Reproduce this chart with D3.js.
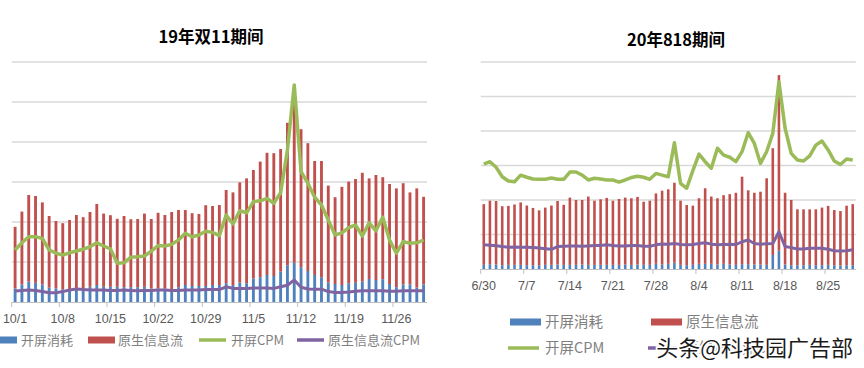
<!DOCTYPE html>
<html>
<head>
<meta charset="utf-8">
<script src="https://cdn.jsdelivr.net/npm/d3@7"></script>
<style>
  body { margin: 0; background: #fff; }
  svg { display: block; }
  text { font-family: "Liberation Sans", "Noto Sans CJK SC", sans-serif; }
</style>
</head>
<body>
<svg width="864" height="368"></svg>
<script>
// 19年双11期间 (10/1 - 11/30)
const leftTicks = ['10/1', '10/8', '10/15', '10/22', '10/29', '11/5', '11/12', '11/19', '11/26'];
const leftTotal = [18.8, 22.6, 26.75, 26.5, 24.9, 21.5, 20.25, 19.7, 20.5, 21.75, 21.2, 22.5, 24.5, 22.1, 21.7, 20.8, 21.5, 20.7, 20.75, 22.1,
  20.75, 22.3, 21.75, 22.5, 23, 23, 22.2, 22, 24.2, 24, 24.25, 28, 27.4, 29.9, 30.9, 33, 35.1, 37.3, 37.2, 38.25,
  44.8, 49.5, 43.2, 39.7, 35.25, 35.25, 29.1, 26.2, 28.8, 30.1, 30.75, 32.3, 30.9, 31.75, 31.2, 29.5, 28.4, 29.7, 27.4, 28.4, 26.3];
const leftSplash = [3.4, 4.4, 5.1, 4.8, 4.4, 3.6, 3.4, 3.2, 3.2, 3.4, 3.25, 3.8, 4.25, 3.8, 3.8, 3.8, 3.7, 3.7, 3.7, 3.8,
  3.4, 3.4, 3.4, 3.25, 3.7, 4.25, 4, 4, 4, 4.25, 4.25, 4.7, 4.25, 4.9, 4.7, 5.9, 6.2, 6.75, 6.5, 7.6,
  9.2, 9.8, 8.7, 7.75, 6.75, 6.2, 4.9, 4.5, 4.25, 4.7, 4.8, 5.1, 5.75, 5.5, 5.7, 4.5, 3.7, 4.4, 4.4, 3.6, 4.4];
const leftSplashCpm = [13, 14.8, 16.3, 16.3, 15.9, 13, 12.2, 11.75, 12.3, 12.75, 13.2, 13.8, 14.8, 14, 13.3, 9.7, 9.8, 11.2, 11.3, 11.5,
  12.7, 14.1, 14, 14.4, 15.5, 17.2, 16.3, 16.75, 17.7, 17.4, 16.6, 21.75, 19.5, 22.8, 22.3, 25.1, 25.3, 25.9, 24.7, 27.3,
  38, 54.25, 32.6, 29.7, 26.2, 24.25, 20.5, 16.75, 17.3, 18.6, 19.25, 16.5, 19.8, 17.8, 21.2, 15.5, 12.2, 15.1, 14.7, 14.8, 15.5];
const leftFeedCpm = [2.75, 2.9, 3, 2.9, 2.6, 2.3, 2.3, 2.6, 3, 3.25, 3.1, 3, 3, 3, 2.9, 2.9, 3, 2.9, 2.8, 2.9,
  2.9, 3, 3, 2.9, 2.9, 3, 3, 3, 3.1, 3.1, 3.1, 3.8, 3.4, 3.4, 3.4, 3.5, 3.5, 3.5, 3.4, 3.8,
  4.2, 5.5, 3.7, 3.25, 3.2, 3.2, 2.6, 2.4, 2.4, 2.5, 2.7, 2.8, 2.8, 2.8, 2.8, 2.7, 2.7, 2.8, 2.8, 2.8, 2.8];

// 20年818期间 (6/30 - 8/29)
const rightTicks = ['6/30', '7/7', '7/14', '7/21', '7/28', '8/4', '8/11', '8/18', '8/25'];
const rightTotal = [18.8, 19.8, 19.7, 18.2, 18.3, 18.7, 19.3, 18.4, 17.7, 17, 17.8, 18.4, 19.7, 18.6, 20.7, 20, 20, 21, 19.8, 20.2,
  20.6, 19.8, 20.3, 20.7, 20.5, 20.9, 19.5, 19.8, 21.9, 22.7, 23.1, 25, 19.8, 18.55, 18.35, 20.5, 23.4, 21, 20.5, 21.4,
  21.7, 22.1, 26.75, 22.8, 22.1, 22.4, 26.3, 35, 56.2, 22.1, 20, 17.3, 17.3, 17.3, 17.3, 17.8, 18.3, 17.1, 16.8, 18.35, 18.8];
const rightSplash = [1.2, 1.4, 1.3, 1.1, 1.2, 1.2, 1.2, 1.1, 1.1, 1.1, 1.2, 1.2, 1.3, 1.2, 1.2, 1.2, 1.3, 1.2, 1.2, 1.2,
  1.2, 1.2, 1.2, 1.3, 1.2, 1.3, 1.2, 1.2, 1.5, 1.3, 1.5, 1.8, 1.2, 1.1, 1.2, 1.5, 1.5, 1.5, 1.3, 1.5,
  1.3, 1.2, 1.4, 1.4, 1.3, 1.3, 1.2, 4.05, 5.3, 1.3, 1.1, 1.1, 1.1, 1.2, 1.1, 1.1, 1.2, 1.1, 1.0, 1.1, 1.1];
const rightSplashCpm = [30.4, 31.1, 29.5, 26.75, 25.5, 25.3, 27.2, 26.6, 26.1, 26, 26, 26.4, 26, 26, 28.1, 28.1, 27.2, 25.8, 26.3, 26.1,
  25.8, 25.8, 25.2, 25.8, 26.5, 26.9, 26.6, 26, 27.7, 27.2, 26.75, 36.6, 24.8, 23.4, 28.5, 33.3, 31.1, 29.2, 35, 33,
  32.4, 31.1, 34, 39.5, 36.4, 30.6, 34, 39.3, 54.3, 40.8, 33.5, 31.6, 31.3, 32.8, 35.9, 37.1, 34.5, 31.3, 30.3, 31.9, 31.6];
const rightFeedCpm = [7, 6.9, 6.75, 6.5, 6.3, 6.4, 6.3, 6.3, 6.2, 6.1, 5.9, 5.7, 6.5, 6.6, 6.7, 6.7, 6.6, 6.7, 6.8, 6.8,
  7, 6.8, 6.7, 6.7, 6.8, 6.8, 6.6, 6.6, 7, 7.25, 7.2, 7.4, 7.1, 7, 7.1, 7.4, 7.6, 7.2, 7, 7.1,
  7.2, 7.1, 7.9, 8.4, 7.4, 7.2, 7.3, 7.4, 10.8, 6.5, 6.2, 5.8, 5.8, 6, 6, 6, 5.7, 5.3, 5.2, 5.3, 5.6];

const leftDays = d3.timeDay.range(new Date(2019, 9, 1), new Date(2019, 11, 1));
const rightDays = d3.timeDay.range(new Date(2020, 5, 30), new Date(2020, 7, 30));

const blue = '#4f81bd', red = '#c0504d', green = '#9bbb59', purple = '#8064a2';
const grey = '#595959';

const svg = d3.select('svg');

function drawPanel(cfg) {
  const days = cfg.days;
  const x = d3.scaleBand()
    .domain(d3.range(days.length))
    .range([cfg.left, cfg.right]);
  const y = d3.scaleLinear()
    .domain([0, 60])
    .range([cfg.bottom, cfg.top]);
  const bw = x.bandwidth() * 0.42;
  const cx = i => x(i) + x.bandwidth() / 2;

  const g = svg.append('g');

  // gridlines
  g.append('g')
    .selectAll('line')
    .data(y.ticks(6).filter(t => t > 0))
    .enter()
    .append('line')
    .attr('x1', cfg.left)
    .attr('x2', cfg.right)
    .attr('y1', d => y(d))
    .attr('y2', d => y(d))
    .attr('stroke', '#d9d9d9')
    .attr('stroke-width', 1.3);

  // stacked bars: splash spend at bottom, feed on top
  const rows = days.map((d, i) => ({
    i,
    splash: cfg.splash[i],
    feed: cfg.total[i] - cfg.splash[i]
  }));
  const stack = d3.stack().keys(['splash', 'feed'])(rows);
  const colors = [blue, red];

  g.append('g')
    .selectAll('g')
    .data(stack)
    .enter()
    .append('g')
    .attr('fill', (d, k) => colors[k])
    .selectAll('rect')
    .data(d => d)
    .enter()
    .append('rect')
    .attr('x', d => cx(d.data.i) - bw / 2)
    .attr('width', bw)
    .attr('y', d => y(d[1]))
    .attr('height', d => y(d[0]) - y(d[1]));

  // axis
  const tickIdx = d3.range(0, days.length, 7);
  g.append('line')
    .attr('x1', cfg.left)
    .attr('x2', cfg.right)
    .attr('y1', cfg.bottom + 0.5)
    .attr('y2', cfg.bottom + 0.5)
    .attr('stroke', '#bfbfbf');
  g.append('g')
    .selectAll('line')
    .data(tickIdx)
    .enter()
    .append('line')
    .attr('x1', d => x(d))
    .attr('x2', d => x(d))
    .attr('y1', cfg.bottom)
    .attr('y2', cfg.bottom + 5)
    .attr('stroke', '#bfbfbf');
  g.append('g')
    .selectAll('text')
    .data(tickIdx)
    .enter()
    .append('text')
    .attr('x', d => cx(d))
    .attr('y', cfg.bottom + 21)
    .attr('text-anchor', 'middle')
    .attr('font-size', 12.5)
    .attr('fill', grey)
    .text((d, k) => cfg.ticks[k]);

  // lines
  const line = d3.line()
    .x((d, i) => cx(i))
    .y(d => y(d));
  g.append('path')
    .datum(cfg.feedCpm)
    .attr('fill', 'none')
    .attr('stroke', purple)
    .attr('stroke-width', 3)
    .attr('stroke-linejoin', 'round')
    .attr('d', line);
  g.append('path')
    .datum(cfg.splashCpm)
    .attr('fill', 'none')
    .attr('stroke', green)
    .attr('stroke-width', 3.5)
    .attr('stroke-linejoin', 'round')
    .attr('d', line);

  // title
  g.append('text')
    .attr('x', cfg.titleX)
    .attr('y', cfg.titleY)
    .attr('text-anchor', 'middle')
    .attr('font-size', 16.5)
    .attr('font-weight', 'bold')
    .attr('fill', '#000')
    .style('font-family', '"Noto Sans CJK SC", sans-serif')
    .text(cfg.title);
}

drawPanel({
  title: '19年双11期间', titleX: 211, titleY: 43,
  days: leftDays, ticks: leftTicks,
  total: leftTotal, splash: leftSplash, splashCpm: leftSplashCpm, feedCpm: leftFeedCpm,
  left: 11.7, right: 427, top: 62, bottom: 302
});

drawPanel({
  title: '20年818期间', titleX: 676, titleY: 46,
  days: rightDays, ticks: rightTicks,
  total: rightTotal, splash: rightSplash, splashCpm: rightSplashCpm, feedCpm: rightFeedCpm,
  left: 480.7, right: 855.8, top: 62, bottom: 269
});

// legends
const leftLegend = [
  { name: '开屏消耗', color: blue, type: 'rect', x: -10, tx: 21 },
  { name: '原生信息流', color: red, type: 'rect', x: 88, tx: 118 },
  { name: '开屏CPM', color: green, type: 'line', x: 199, tx: 231 },
  { name: '原生信息流CPM', color: purple, type: 'line', x: 297, tx: 328 }
];
const rightLegend = [
  { name: '开屏消耗', color: blue, type: 'rect', x: 510, tx: 545, y: 322 },
  { name: '原生信息流', color: red, type: 'rect', x: 651, tx: 686, y: 322 },
  { name: '开屏CPM', color: green, type: 'line', x: 508, tx: 545, y: 348 },
  { name: '原生信息流CPM', color: purple, type: 'line', x: 648, tx: 684, y: 348 }
];

function drawLegend(items, y0, fs, sw) {
  const lg = svg.append('g');
  items.forEach(d => {
    const yy = d.y || y0;
    if (d.type === 'rect') {
      lg.append('rect')
        .attr('x', d.x).attr('y', yy - 3.5)
        .attr('width', sw).attr('height', 7)
        .attr('fill', d.color);
    } else {
      lg.append('line')
        .attr('x1', d.x).attr('x2', d.x + sw)
        .attr('y1', yy).attr('y2', yy)
        .attr('stroke', d.color).attr('stroke-width', 3.5);
    }
    lg.append('text')
      .attr('x', d.tx).attr('y', yy)
      .attr('dy', '0.36em')
      .attr('font-size', fs)
      .attr('fill', '#7f7f7f')
      .style('font-family', '"Noto Sans CJK SC", sans-serif')
      .text(d.name);
  });
}

drawLegend(leftLegend, 340, 13, 27);
drawLegend(rightLegend, 322, 14.5, 31);

// watermark over the last legend entry, as in the source image
svg.append('text')
  .attr('x', 853)
  .attr('y', 348)
  .attr('dy', '0.36em')
  .attr('text-anchor', 'end')
  .attr('font-size', 22)
  .attr('fill', '#1a1a1a')
  .attr('stroke', '#fff')
  .attr('stroke-width', 3.5)
  .attr('paint-order', 'stroke')
  .style('font-family', '"Noto Sans CJK SC", sans-serif')
  .text('头条@科技园广告部');
</script>
</body>
</html>
